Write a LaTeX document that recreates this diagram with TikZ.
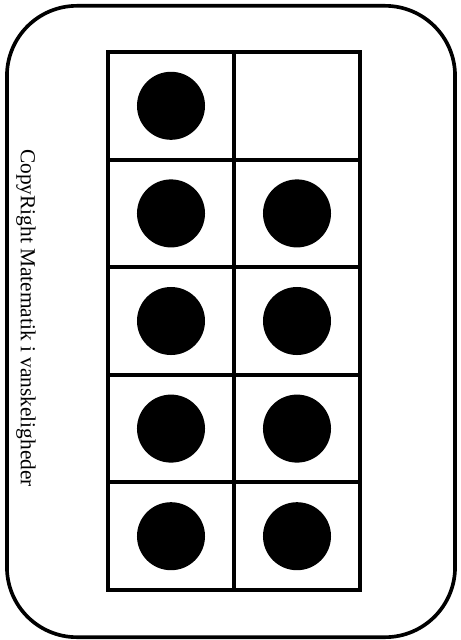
\documentclass[tikz,border=0pt]{standalone}
\usepackage{fontspec}
\setmainfont{Liberation Serif}
\usetikzlibrary{positioning}

\begin{document}
\begin{tikzpicture}[
            x=0.025cm, y=-0.025cm,
            celle/.style={draw, line width=2.7pt, minimum width=3.15cm, minimum height=2.69cm, inner sep=0pt},
            prik/.style={circle, fill=black, minimum size=1.7cm, inner sep=0pt}
        ]
        \useasboundingbox (0,0) rectangle (461,640);

        % Kort med afrundede hjoerner
        \node[draw, line width=2.6pt, rounded corners=1.75cm, minimum width=11.2cm, minimum height=15.78cm, inner sep=0pt] (kort) at (231,321.5) {};

        % Tekst langs venstre kant
        \node[rotate=-90, font=\fontsize{15.2}{17}\selectfont, inner sep=0pt] (tekst) at (26,318)
        {CopyRight Matematik i vanskeligheder};

        % Tiramme: 5 raekker, 2 soejler
        \foreach \r in {1,...,5} {
            \foreach \s in {1,2} {
                \node[celle] (c\r\s) at ({171+126*(\s-1)}, {52+107.6*(\r-0.5)}) {};
            }
        }

        % Prikker (9 i alt)
        \node[prik] (p11) at (c11) {};
        \foreach \r in {2,...,5} {
            \node[prik] (p\r1) at (c\r1) {};
            \node[prik] (p\r2) at (c\r2) {};
        }
    \end{tikzpicture}
\end{document}
